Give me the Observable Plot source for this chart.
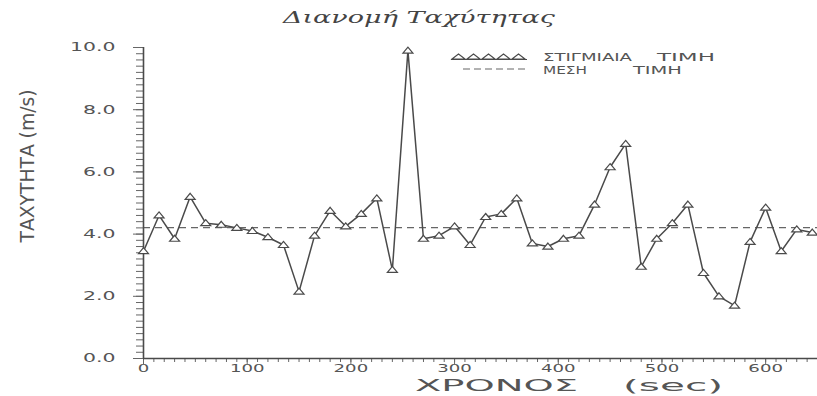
<!DOCTYPE html>
<html>
<head>
<meta charset="utf-8">
<script src="https://cdn.jsdelivr.net/npm/d3@7"></script>
<script src="https://cdn.jsdelivr.net/npm/@observablehq/plot@0.6"></script>
<style>
  body { margin: 0; background: #fff; }
  #chart { position: relative; width: 817px; height: 396px; overflow: hidden; background: #fff; }
  #chart svg { position: absolute; left: 0; top: 0; }
</style>
</head>
<body>
<div id="chart"></div>
<script>
// Time of each sample (sec)
const times = [0, 15, 30, 45, 60, 75, 90, 105, 120, 135, 150, 165, 180, 195, 210, 225,
  240, 255, 270, 285, 300, 315, 330, 345, 360, 375, 390, 405, 420, 435, 450, 465,
  480, 495, 510, 525, 540, 555, 570, 585, 600, 615, 630, 645];

// Instantaneous speed (m/s)
const speeds = [3.45, 4.6, 3.85, 5.2, 4.35, 4.3, 4.2, 4.1, 3.9, 3.65, 2.15, 3.95, 4.75, 4.25, 4.65, 5.15,
  2.85, 9.9, 3.85, 3.95, 4.25, 3.65, 4.55, 4.65, 5.15, 3.7, 3.6, 3.85, 3.95, 4.95, 6.15, 6.9,
  2.95, 3.85, 4.35, 4.95, 2.75, 2.0, 1.7, 3.75, 4.85, 3.45, 4.15, 4.05];

// Axis ticks
const yMajorTicks = [0, 2, 4, 6, 8, 10];
const yTickLabels = ["0.0", "2.0", "4.0", "6.0", "8.0", "10.0"];
const xMajorTicks = [0, 100, 200, 300, 400, 500, 600];
const yMinorTicks = d3.range(0, 10.001, 0.2);
const xMinorTicks = d3.range(0, 650.001, 10);

// Texts
const titleText = "Διανομή Ταχύτητας";
const yLabelText = "ΤΑΧΥΤΗΤΑ (m/s)";
const xLabelWord = "ΧΡΟΝΟΣ";
const xLabelUnit = "(sec)";
const legendInstant = ["ΣΤΙΓΜΙΑΙΑ", "ΤΙΜΗ"];
const legendMean = ["ΜΕΣΗ", "ΤΙΜΗ"];

const samples = times.map((t, i) => ({t, v: speeds[i]}));
const meanSpeed = d3.mean(speeds);

// Flat open triangle marker
const flatTriangle = {
  draw(ctx) {
    ctx.moveTo(0, -3.5);
    ctx.lineTo(5, 2.5);
    ctx.lineTo(-5, 2.5);
    ctx.closePath();
  }
};

const ink = "#4a4a4a";
const labelFmt = d => yTickLabels[yMajorTicks.indexOf(d)];

const plot = Plot.plot({
  width: 817,
  height: 396,
  marginTop: 47,
  marginBottom: 38,
  marginLeft: 143,
  marginRight: 0,
  x: {domain: [0, 650]},
  y: {domain: [0, 10]},
  style: {fontFamily: "DejaVu Sans", fontSize: "11px", color: "#555", background: "transparent"},
  marks: [
    Plot.axisY({ticks: yMinorTicks, tickSize: 7, tickFormat: () => "", label: null, stroke: "#666"}),
    Plot.axisY({ticks: yMajorTicks, tickSize: 10, tickPadding: 18, tickFormat: labelFmt, label: null, stroke: "#666", fill: "#555", fontSize: 12}),
    Plot.axisX({ticks: xMinorTicks, tickSize: 4, tickFormat: () => "", label: null, stroke: "#666"}),
    Plot.axisX({ticks: xMajorTicks, tickSize: 6, tickPadding: 0, tickFormat: d => String(d), label: null, stroke: "#666", fill: "#555"}),
    Plot.ruleY([meanSpeed], {stroke: "#666", strokeWidth: 1.2, strokeDasharray: "7,5"}),
    Plot.ruleX([0], {stroke: ink, strokeWidth: 1.6}),
    Plot.ruleY([0], {stroke: ink, strokeWidth: 1.6}),
    Plot.line(samples, {x: "t", y: "v", stroke: ink, strokeWidth: 1.5}),
    Plot.dot(samples, {x: "t", y: "v", symbol: flatTriangle, fill: "white", stroke: ink, strokeWidth: 1.2})
  ]
});

const host = document.getElementById("chart");
host.appendChild(plot);

// Widen the tick labels to the broad lettering of the axes
d3.select(plot).selectAll('g[aria-label="y-axis tick label"] text')
  .each(function () {
    const w = this.getComputedTextLength();
    this.setAttribute("textLength", (w * 1.7).toFixed(1));
    this.setAttribute("lengthAdjust", "spacingAndGlyphs");
  });
d3.select(plot).selectAll('g[aria-label="x-axis tick label"] text')
  .each(function () {
    const w = this.getComputedTextLength();
    this.setAttribute("textLength", (w * 1.65).toFixed(1));
    this.setAttribute("lengthAdjust", "spacingAndGlyphs");
  });

// Title, axis titles and legend
const ns = "http://www.w3.org/2000/svg";
const over = d3.select(host).append("svg")
  .attr("xmlns", ns)
  .attr("width", 817).attr("height", 396)
  .style("pointer-events", "none");

function label(x, y, text, opts) {
  const t = over.append("text")
    .attr("x", x).attr("y", y)
    .attr("fill", opts.fill || "#555")
    .attr("font-family", opts.family || "DejaVu Sans")
    .attr("font-size", opts.size)
    .attr("text-anchor", opts.anchor || "start")
    .text(text);
  if (opts.italic) t.attr("font-style", "italic");
  if (opts.length) t.attr("textLength", opts.length).attr("lengthAdjust", "spacingAndGlyphs");
  if (opts.rotate) t.attr("transform", `rotate(${opts.rotate},${x},${y})`);
  return t;
}

label(283, 23, titleText, {size: 16, italic: true, length: 272, fill: "#444", family: "DejaVu Serif"});
label(34, 166, yLabelText, {size: 20, anchor: "middle", length: 153, rotate: -90, family: "DejaVu Sans Condensed"});
label(415, 391, xLabelWord, {size: 15.5, length: 163});
label(623, 391, xLabelUnit, {size: 15.5, length: 100});

// Legend: instantaneous values
const tri = d3.range(5);
over.append("g").selectAll("path").data(tri).join("path")
  .attr("d", (d, i) => `M${452 + i * 15},59 l6.5,-5 l6.5,5 Z`)
  .attr("fill", "white").attr("stroke", ink).attr("stroke-width", 1.1);
over.append("line").attr("x1", 451).attr("x2", 527).attr("y1", 59.5).attr("y2", 59.5)
  .attr("stroke", ink).attr("stroke-width", 1.2);
label(543, 61, legendInstant[0], {size: 10, length: 89});
label(657, 61, legendInstant[1], {size: 10, length: 58});

// Legend: mean value
over.append("line").attr("x1", 463).attr("x2", 525).attr("y1", 69).attr("y2", 69)
  .attr("stroke", "#666").attr("stroke-width", 1.1).attr("stroke-dasharray", "7,4");
label(543, 74, legendMean[0], {size: 10, length: 44});
label(633, 74, legendMean[1], {size: 10, length: 49});
</script>
</body>
</html>
